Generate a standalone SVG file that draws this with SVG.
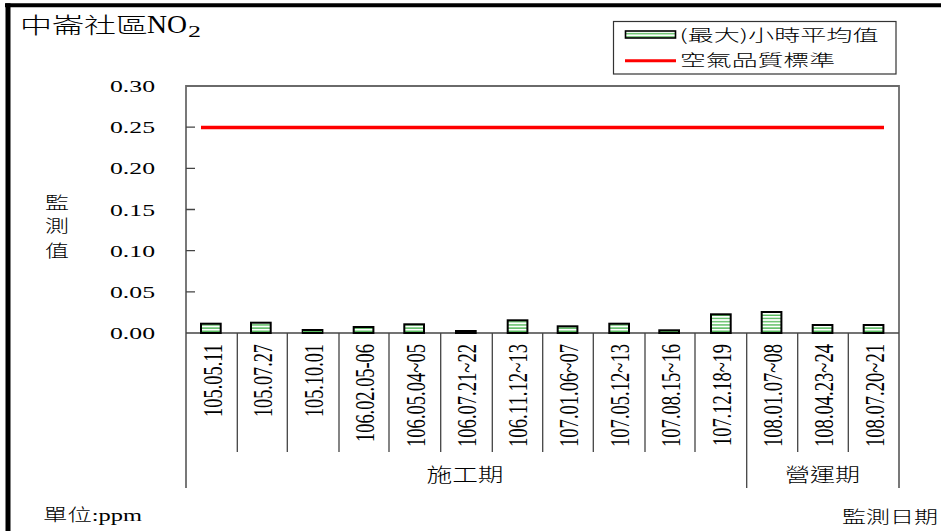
<svg xmlns="http://www.w3.org/2000/svg" width="941" height="531" viewBox="0 0 941 531">
<defs>
<pattern id="stripes" patternUnits="userSpaceOnUse" width="8" height="3.2">
<rect width="8" height="3.2" fill="#ffffff"/>
<rect y="1.1" width="8" height="1.2" fill="#3cb043"/>
</pattern>
<style>
.serif{font-family:"Liberation Serif","Noto Sans CJK TC",serif;fill:#000}
.cjk{font-family:"Noto Sans CJK TC","Noto Sans CJK SC",sans-serif;font-weight:300;fill:#000}
.bar{fill:url(#stripes);stroke:#000;stroke-width:2}
.frame{stroke:#6a6a6a;stroke-width:1.8;fill:none}
.sep{stroke:#444;stroke-width:1.3;fill:none}
.xl{font-size:28px;text-anchor:end}
.yl{font-size:17px}
</style>
</defs>
<rect width="941" height="531" fill="#fff"/>
<g id="border">
<line x1="5" y1="5.3" x2="941" y2="5.3" stroke="#000" stroke-width="4"/>
<line x1="8" y1="3.3" x2="8" y2="531" stroke="#000" stroke-width="5"/>
</g>
<g id="title">
<text class="cjk" x="20" y="32.5" font-size="22" textLength="128" lengthAdjust="spacingAndGlyphs">中崙社區</text>
<text class="serif" x="147" y="32.7" font-size="26" textLength="40" lengthAdjust="spacingAndGlyphs">NO</text>
<text class="serif" x="188" y="36.7" font-size="17" textLength="13" lengthAdjust="spacingAndGlyphs">2</text>
</g>
<g id="legend">
<rect x="613.5" y="21.5" width="282.5" height="52.5" fill="#fff" stroke="#333" stroke-width="1.2"/>
<rect class="bar" x="625.5" y="31" width="50" height="7" style="stroke-width:1.6"/>
<text class="cjk" x="679.5" y="40.5" font-size="16" textLength="199" lengthAdjust="spacingAndGlyphs">(最大)小時平均值</text>
<line x1="625" y1="60.7" x2="676" y2="60.7" stroke="#ff0000" stroke-width="3"/>
<text class="cjk" x="680" y="66" font-size="16" textLength="155" lengthAdjust="spacingAndGlyphs">空氣品質標準</text>
</g>
<g id="axes">
<path class="frame" d="M186 488 V86 H899 V488"/>
<path class="sep" d="M186 127.2 h9 M186 168.3 h9 M186 209.5 h9 M186 250.7 h9 M186 291.8 h9"/>
<line x1="186" y1="333" x2="899" y2="333" stroke="#444" stroke-width="1.5"/>
<path class="sep" d="M237.3 333 V452 M287.3 333 V452 M339 333 V452 M389 333 V452 M440.7 333 V452 M492.3 333 V452 M542.7 333 V452 M593.3 333 V452 M645 333 V452 M695 333 V452 M797.7 333 V452 M848.3 333 V452 M746.7 333 V488"/>
</g>
<g id="y-labels" class="serif yl">
<text x="110" y="92" textLength="45" lengthAdjust="spacingAndGlyphs">0.30</text>
<text x="110" y="133.2" textLength="45" lengthAdjust="spacingAndGlyphs">0.25</text>
<text x="110" y="174.3" textLength="45" lengthAdjust="spacingAndGlyphs">0.20</text>
<text x="110" y="215.5" textLength="45" lengthAdjust="spacingAndGlyphs">0.15</text>
<text x="110" y="256.7" textLength="45" lengthAdjust="spacingAndGlyphs">0.10</text>
<text x="110" y="297.8" textLength="45" lengthAdjust="spacingAndGlyphs">0.05</text>
<text x="110" y="338.5" textLength="45" lengthAdjust="spacingAndGlyphs">0.00</text>
</g>
<g id="y-title" class="cjk" font-size="17">
<text x="45" y="209" textLength="24" lengthAdjust="spacingAndGlyphs">監</text>
<text x="45" y="232" textLength="24" lengthAdjust="spacingAndGlyphs">測</text>
<text x="45" y="257" textLength="24" lengthAdjust="spacingAndGlyphs">值</text>
</g>
<g id="standard">
<line x1="201" y1="127.5" x2="884" y2="127.5" stroke="#ff0000" stroke-width="3.5"/>
</g>
<g id="bars">
<rect class="bar" x="201" y="323.7" width="19.7" height="9.3"/>
<rect class="bar" x="251" y="322.7" width="19.7" height="10.3"/>
<rect class="bar" x="302.7" y="330" width="19.7" height="3"/>
<rect class="bar" x="353.7" y="327" width="19.7" height="6"/>
<rect class="bar" x="404.3" y="324.3" width="19.7" height="8.7"/>
<rect class="bar" x="456" y="331" width="19.7" height="2"/>
<rect class="bar" x="507.7" y="320.3" width="19.7" height="12.7"/>
<rect class="bar" x="557.7" y="326.3" width="19.7" height="6.7"/>
<rect class="bar" x="609.3" y="323.7" width="19.7" height="9.3"/>
<rect class="bar" x="659.3" y="330.3" width="19.7" height="2.7"/>
<rect class="bar" x="711" y="314.3" width="19.7" height="18.7"/>
<rect class="bar" x="761.7" y="312" width="19.7" height="21"/>
<rect class="bar" x="812.7" y="325" width="19.7" height="8"/>
<rect class="bar" x="863.7" y="325" width="19.7" height="8"/>
</g>
<g id="x-labels" class="serif xl">
<text transform="translate(221.5,344) rotate(-90)" textLength="73" lengthAdjust="spacingAndGlyphs">105.05.11</text>
<text transform="translate(272.4,344) rotate(-90)" textLength="73" lengthAdjust="spacingAndGlyphs">105.07.27</text>
<text transform="translate(323.3,344) rotate(-90)" textLength="73" lengthAdjust="spacingAndGlyphs">105.10.01</text>
<text transform="translate(374.2,344) rotate(-90)" textLength="98" lengthAdjust="spacingAndGlyphs">106.02.05-06</text>
<text transform="translate(425.2,344) rotate(-90)" textLength="103" lengthAdjust="spacingAndGlyphs">106.05.04~05</text>
<text transform="translate(476.1,344) rotate(-90)" textLength="103" lengthAdjust="spacingAndGlyphs">106.07.21~22</text>
<text transform="translate(527,344) rotate(-90)" textLength="103" lengthAdjust="spacingAndGlyphs">106.11.12~13</text>
<text transform="translate(578,344) rotate(-90)" textLength="103" lengthAdjust="spacingAndGlyphs">107.01.06~07</text>
<text transform="translate(628.9,344) rotate(-90)" textLength="103" lengthAdjust="spacingAndGlyphs">107.05.12~13</text>
<text transform="translate(679.8,344) rotate(-90)" textLength="103" lengthAdjust="spacingAndGlyphs">107.08.15~16</text>
<text transform="translate(730.8,344) rotate(-90)" textLength="102" lengthAdjust="spacingAndGlyphs">107.12.18~19</text>
<text transform="translate(781.7,344) rotate(-90)" textLength="103" lengthAdjust="spacingAndGlyphs">108.01.07~08</text>
<text transform="translate(832.6,344) rotate(-90)" textLength="103" lengthAdjust="spacingAndGlyphs">108.04.23~24</text>
<text transform="translate(883.5,344) rotate(-90)" textLength="103" lengthAdjust="spacingAndGlyphs">108.07.20~21</text>
</g>
<g id="groups" class="cjk" font-size="19">
<text x="426.5" y="482" textLength="77" lengthAdjust="spacingAndGlyphs">施工期</text>
<text x="785" y="482" textLength="75" lengthAdjust="spacingAndGlyphs">營運期</text>
</g>
<g id="footer" font-size="17">
<text class="serif" x="43" y="521" textLength="99" lengthAdjust="spacingAndGlyphs" style="font-weight:300">單位:ppm</text>
<text class="cjk" x="842" y="523" textLength="96" lengthAdjust="spacingAndGlyphs">監測日期</text>
</g>
</svg>
